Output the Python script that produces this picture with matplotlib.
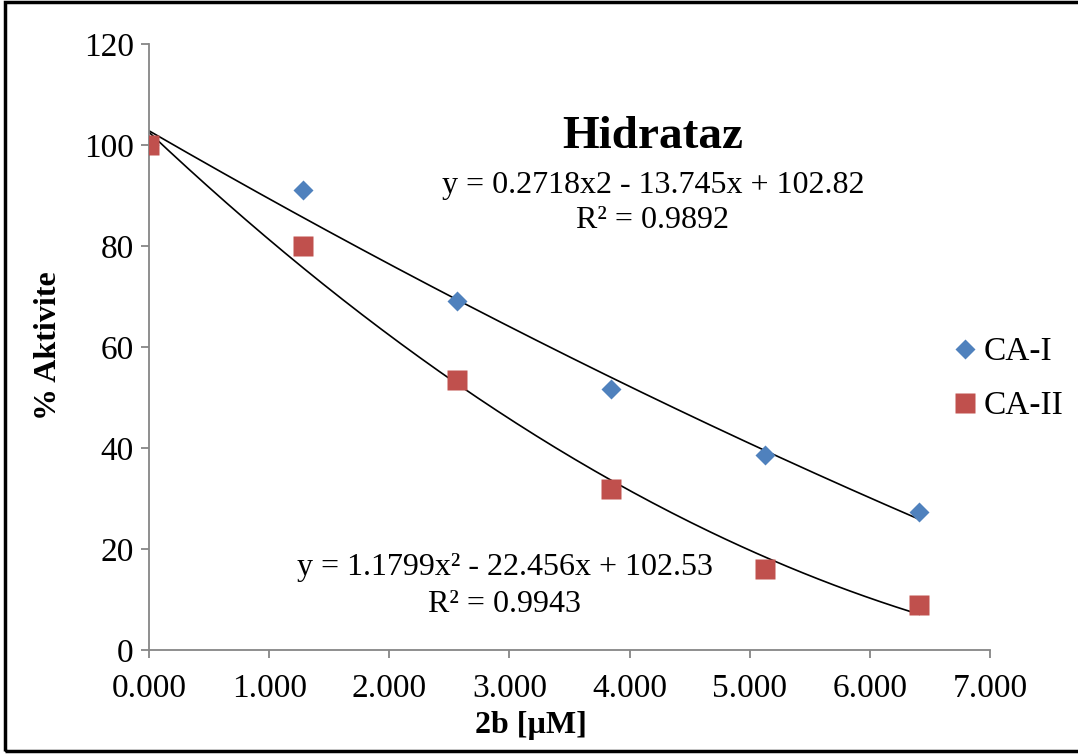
import numpy as np
import matplotlib.pyplot as plt
from matplotlib.patches import Rectangle

# concentration of 2b (uM) and % activity
conc = [0.0, 1.282, 2.564, 3.846, 5.128, 6.41]
ca1 = [100.0, 91.0, 69.2, 51.6, 38.6, 27.4]
ca2 = [100.0, 80.0, 53.5, 31.9, 16.0, 9.0]

# quadratic trendline coefficients (a, b, c) as printed on the chart
fit_ca1 = [0.2718, -13.745, 102.82]
fit_ca2 = [1.1799, -22.456, 102.53]

plt.rcParams['font.family'] = ['Liberation Serif', 'DejaVu Serif']

fig = plt.figure(figsize=(10.78, 7.55), dpi=100)
ax = fig.add_axes([0.1382, 0.1391, 0.7802, 0.8026])

xs = np.linspace(0, conc[-1], 200)
ax.plot(xs, np.polyval(fit_ca1, xs), color='black', lw=1.2, zorder=2)
ax.plot(xs, np.polyval(fit_ca2, xs), color='black', lw=1.2, zorder=2)

ax.plot(conc, ca1, 'D', color='#4F81BD', markersize=10, mec='none',
        label='CA-I', zorder=3)
ax.plot(conc, ca2, 's', color='#C0504D', markersize=14.5, mec='none',
        label='CA-II', zorder=4)

ax.set_xlim(0, 7)
ax.set_ylim(0, 120)
ax.set_xticks(range(8))
ax.set_xticklabels(['%.3f' % v for v in range(8)])
ax.set_yticks(range(0, 121, 20))

for s in ['top', 'right']:
    ax.spines[s].set_visible(False)
for s in ['left', 'bottom']:
    ax.spines[s].set_color('#868686')
    ax.spines[s].set_linewidth(1.3)
ax.tick_params(direction='out', length=6, width=1.3, color='#868686',
               labelsize=24, pad=5)
ax.tick_params(axis='x', pad=11)

ax.set_xlabel('2b [µM]', fontsize=23, fontweight='bold', va='center')
ax.set_ylabel('% Aktivite', fontsize=23, fontweight='bold', va='center')
ax.xaxis.set_label_coords(0.454, -0.124)
ax.yaxis.set_label_coords(-0.120, 0.502)

fig.text(653 / 1078, 1 - 137 / 755, 'Hidrataz', fontsize=34,
         fontweight='bold', ha='center', va='center')
fig.text(653 / 1078, 1 - 186 / 755, 'y = 0.2718x2 - 13.745x + 102.82',
         fontsize=23, ha='center', va='center')
fig.text(653 / 1078, 1 - 221 / 755, 'R² = 0.9892',
         fontsize=23, ha='center', va='center')
fig.text(505 / 1078, 1 - 568 / 755, 'y = 1.1799x² - 22.456x + 102.53',
         fontsize=23, ha='center', va='center')
fig.text(505 / 1078, 1 - 604 / 755, 'R² = 0.9943',
         fontsize=23, ha='center', va='center')

ax.legend(loc='center left', bbox_to_anchor=(935 / 1078, 1 - 379 / 755),
          bbox_transform=fig.transFigure, frameon=False, fontsize=24,
          handletextpad=0.05, handlelength=1.0, labelspacing=0.7,
          borderaxespad=0)

fig.patches.append(Rectangle((5 / 1078, 4 / 755), 1.0, 1 - 6 / 755,
                             transform=fig.transFigure, fill=False,
                             ec='black', lw=2.5))

fig.savefig('out.png', dpi=100)
